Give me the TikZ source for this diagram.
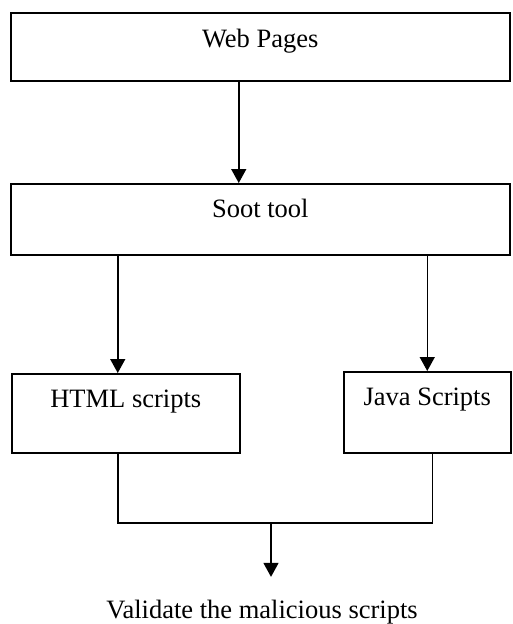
\documentclass[tikz,border=0pt]{standalone}
\usepackage{fontspec}
\setmainfont{Liberation Serif}
\usetikzlibrary{arrows.meta}
\begin{document}
\begin{tikzpicture}[x=1pt,y=-1pt,line width=1.5pt,font=\fontsize{26.5}{30}\selectfont,
 box/.style={draw,inner sep=0pt,anchor=north west},
 arr/.style={-{Triangle[width=15pt,length=14pt]}}]
 \useasboundingbox (0,0) rectangle (512,624);
 \node[box,minimum width=499pt,text height=34.5pt,text depth=33.5pt](web) at (10,12){Web Pages};
 \node[box,minimum width=499pt,text height=33.5pt,text depth=37.5pt](soot) at (10,183){Soot tool};
 \node[box,minimum width=228pt,text height=33.5pt,text depth=45.5pt](html) at (11,373){HTML scripts};
 \node[box,minimum width=167pt,text height=34pt,text depth=47pt](java) at (343,371){Java Scripts};
 \node[anchor=base,inner sep=0pt](valid) at (262,618){Validate the malicious scripts};
 \coordinate (join) at (271,523);
 \draw[arr]([xshift=-21.5pt]web.south)--([xshift=-21.5pt]soot.north);
 \draw[arr]([xshift=-8pt]soot.south-|html.north)--([xshift=-8pt]html.north);
 \draw[arr](soot.south-|java.north)--(java.north);
 \draw([xshift=-8pt]html.south)|-(join)-|([xshift=5pt]java.south);
 \draw[arr](join)--([yshift=22pt]valid.north-|join);
\end{tikzpicture}
\end{document}
